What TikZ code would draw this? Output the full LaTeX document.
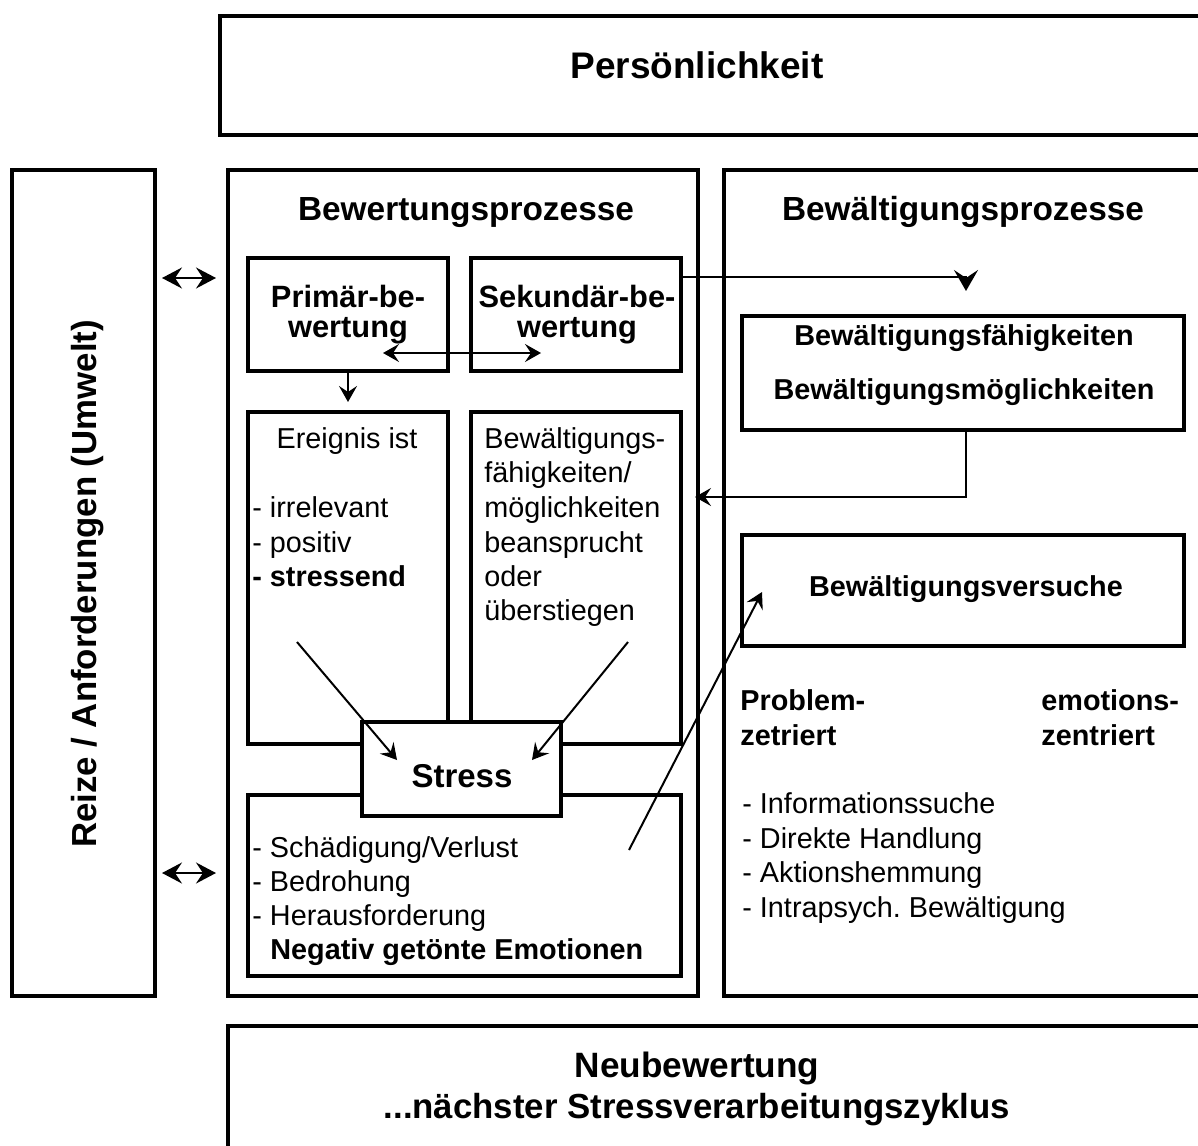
\documentclass[tikz,border=0pt]{standalone}
\usepackage{fontspec}
\setmainfont{Liberation Sans}
\usetikzlibrary{arrows.meta}
\frenchspacing

\begin{document}
\begin{tikzpicture}[x=0.5pt, y=-0.5pt,
	>={Stealth[length=8pt, width=9pt, inset=3pt]},
	box/.style={draw, line width=2pt, shape=rectangle, inner sep=0},
	conn/.style={line width=1pt},
	wide/.style={line width=1.1pt, >={Stealth[length=10pt, width=10.5pt, inset=3.5pt]}},
	huge/.style={line width=1pt, >={Stealth[length=10.5pt, width=12pt, inset=4pt]}},
	txt/.style={inner sep=0, anchor=base west, font=\fontsize{14.4}{17.25}\selectfont},
	btxt/.style={inner sep=0, anchor=base, font=\fontsize{14.4}{17.25}\selectfont\bfseries},
	ttl/.style={inner sep=0, anchor=base, font=\fontsize{16.7}{20}\selectfont\bfseries},
	sub/.style={inner sep=0, anchor=base, font=\fontsize{15.4}{18}\selectfont\bfseries},
	big/.style={inner sep=0, anchor=base, font=\fontsize{17.8}{21}\selectfont\bfseries}]
	\useasboundingbox (0,0) rectangle (1198,1145);

	% outer frames
	\node[box, minimum width=495pt, minimum height=59.5pt] (pers) at (715,75.5) {};
	\node[box, minimum width=71.5pt, minimum height=413pt] (reize) at (83.5,583) {};
	\node[box, minimum width=235pt, minimum height=413pt] (bew) at (463,583) {};
	\node[box, minimum width=243pt, minimum height=413pt] (bewael) at (967,583) {};
	\node[box, minimum width=491pt, minimum height=67pt] (neu) at (719,1093) {};

	% inner boxes
	\node[box, minimum width=100pt, minimum height=56.5pt] (prim) at (348,314.5) {};
	\node[box, minimum width=105pt, minimum height=56.5pt] (sek) at (576,314.5) {};
	\node[box, minimum width=100pt, minimum height=166pt] (ereig) at (348,578) {};
	\node[box, minimum width=105pt, minimum height=166pt] (kap) at (576,578) {};
	\node[box, minimum width=216.5pt, minimum height=90.5pt] (emo) at (464.5,885.5) {};
	\node[box, fill=white, minimum width=99.5pt, minimum height=47pt] (stress) at (461.5,769) {};
	\node[box, minimum width=221pt, minimum height=57pt] (faeh) at (963,373) {};
	\node[box, minimum width=221pt, minimum height=55.5pt] (vers) at (963,590.5) {};

	% titles
	\node[big, font=\fontsize{18.5}{21}\selectfont\bfseries] (pers-t) at (697,79) {Persönlichkeit};
	\node[big, font=\fontsize{17.4}{21}\selectfont\bfseries, rotate=90] (reize-t) at (96,584) {Reize / Anforderungen (Umwelt)};
	\node[ttl] (bew-t) at (466,220) {Bewertungsprozesse};
	\node[ttl] (bewael-t) at (963,220) {Bewältigungsprozesse};
	\node[sub] (prim-a) at (348,307) {Primär-be-};
	\node[sub] (prim-b) at (348,337) {wertung};
	\node[sub] (sek-a) at (577,307) {Sekundär-be-};
	\node[sub] (sek-b) at (577,337) {wertung};
	\node[ttl, font=\fontsize{16.5}{20}\selectfont\bfseries] (stress-t) at (462,787) {Stress};
	\node[btxt] (faeh-a) at (964,345) {Bewältigungsfähigkeiten};
	\node[btxt] (faeh-b) at (964,399) {Bewältigungsmöglichkeiten};
	\node[btxt] (vers-t) at (966,596) {Bewältigungsversuche};
	\node[big, font=\fontsize{17.6}{21}\selectfont\bfseries] (neu-a) at (697,1077) {Neubewertung};
	\node[big, font=\fontsize{17.4}{21}\selectfont\bfseries] (neu-b) at (697,1118) {...nächster Stressverarbeitungszyklus};

	% lists
	\node[txt, anchor=base] (ereig-t) at (347,448) {Ereignis ist};
	\node[txt] (ereig-1) at (252,517) {- irrelevant};
	\node[txt] (ereig-2) at (252,552) {- positiv};
	\node[txt, font=\fontsize{14.4}{17.25}\selectfont\bfseries] (ereig-3) at (252,586) {- stressend};
	\foreach \y/\t [count=\i] in {448/{Bewältigungs-}, 482/{fähigkeiten/}, 517/{möglichkeiten}, 552/{beansprucht}, 586/{oder}, 620/{überstiegen}}
		{
			\node[txt] (kap-\i) at (484,\y) {\t};
		}
	\foreach \y/\t [count=\i] in {857/{- Schädigung/Verlust}, 891/{- Bedrohung}, 925/{- Herausforderung}}
		{
			\node[txt] (emo-\i) at (252,\y) {\t};
		}
	\node[txt, font=\fontsize{14.4}{17.25}\selectfont\bfseries] (emo-4) at (270,959) {Negativ getönte Emotionen};
	\node[txt, font=\fontsize{14.4}{17.25}\selectfont\bfseries] (prob-a) at (740,710) {Problem-};
	\node[txt, font=\fontsize{14.4}{17.25}\selectfont\bfseries] (prob-b) at (740,745) {zetriert};
	\node[txt, font=\fontsize{14.4}{17.25}\selectfont\bfseries] (emot-a) at (1041,710) {emotions-};
	\node[txt, font=\fontsize{14.4}{17.25}\selectfont\bfseries] (emot-b) at (1041,745) {zentriert};
	\foreach \y/\t [count=\i] in {813/{- Informationssuche}, 848/{- Direkte Handlung}, 882/{- Aktionshemmung}, 917/{- Intrapsych. Bewältigung}}
		{
			\node[txt] (strat-\i) at (742,\y) {\t};
		}

	% connectors
	\coordinate (hi) at (0,278);
	\coordinate (lo) at (0,873);
	\coordinate (sk) at (0,277);
	\coordinate (fb) at (0,497);
	\coordinate (pa) at (383,353);
	\coordinate (pb) at (541,353);
	\coordinate (pd) at (348,402);
	\coordinate (e1) at (297,642);
	\coordinate (e2) at (397,760);
	\coordinate (k1) at (628,642);
	\coordinate (k2) at (532,760);
	\coordinate (v1) at (629,850);
	\coordinate (v2) at (762,592);
	\draw[wide, <->, shorten <=2.5pt, shorten >=5pt] (reize.east |- hi) -- (bew.west |- hi);
	\draw[wide, <->, shorten <=2.5pt, shorten >=5pt] (reize.east |- lo) -- (bew.west |- lo);
	\draw[conn, <->] (pa) -- (pb);
	\draw[conn, ->] (prim.south) -- (pd);
	\draw[huge, ->, shorten >=11.5pt] (sek.east |- sk) -| ([xshift=1.5pt]faeh.north);
	\draw[conn, ->, shorten >=-2.5pt] ([xshift=1.5pt]faeh.south) |- (bew.east |- fb);
	\draw[conn, ->] (e1) -- (e2);
	\draw[conn, ->] (k1) -- (k2);
	\draw[conn, ->] (v1) -- (v2);
\end{tikzpicture}
\end{document}
